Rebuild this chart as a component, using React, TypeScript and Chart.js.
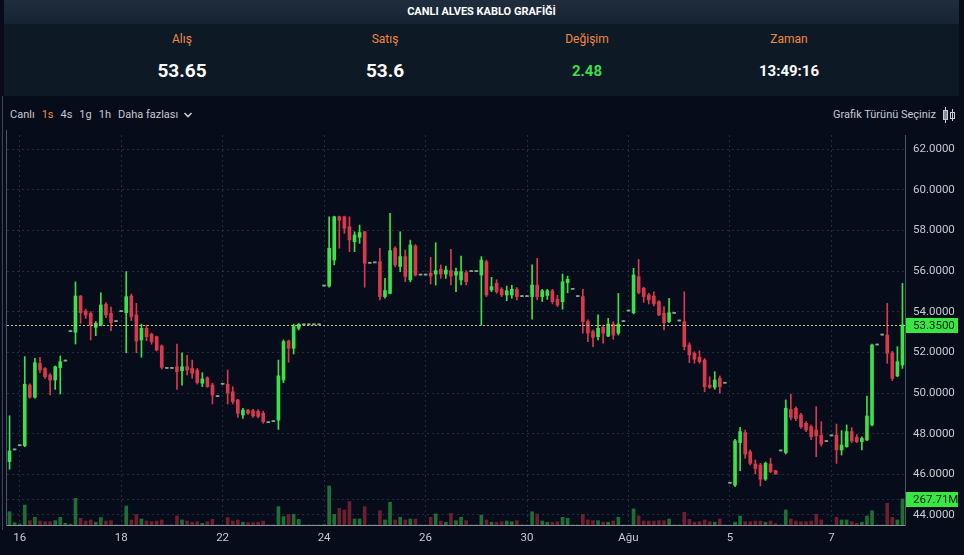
import React, { useEffect, useRef } from 'react';
import { Chart, registerables } from 'chart.js';

Chart.register(...registerables);

// ---------- DATA ----------
const opens = [
  46.62, 47.20, 47.41, 47.41, 50.39, 49.79, 51.46, 51.20, 50.88, 50.64,
  51.25, 51.57, 53.02, 52.99, 54.77, 54.03, 53.92, 53.23, 53.34, 54.37,
  53.92, 53.51, 54.00, 53.95, 54.77, 53.84, 52.61, 53.18, 52.89, 52.77,
  52.31, 51.21, 51.21, 51.29, 51.10, 51.29, 51.21, 51.13, 50.48, 50.75,
  50.39, 49.82, 50.43, 50.43, 50.06, 49.66, 48.92, 49.16, 49.13, 49.10,
  49.00, 48.54, 48.59, 48.67, 50.64, 52.56, 52.20, 53.18, 53.35, 53.35,
  53.35, 53.35, 55.26, 55.26, 56.54, 58.67, 58.67, 58.18, 57.44, 57.66,
  57.93, 56.38, 56.40, 56.46, 54.74, 54.90, 57.12, 56.22, 56.71, 55.56,
  57.23, 55.80, 55.80, 55.89, 55.85, 56.08, 55.85, 56.02, 55.80, 55.56,
  55.92, 55.97, 55.97, 55.80, 56.46, 55.07, 55.40, 55.10, 54.82, 54.82,
  55.10, 54.74, 54.74, 54.74, 55.31, 54.74, 54.80, 55.03, 54.61, 54.49,
  55.43, 55.10, 54.74, 54.74, 53.51, 53.02, 52.77, 53.23, 52.80, 53.39,
  52.94, 53.51, 54.03, 53.95, 55.72, 55.15, 54.82, 54.77, 54.49, 53.92,
  53.51, 53.92, 53.54, 53.51, 52.36, 51.95, 51.76, 51.62, 50.39, 50.28,
  50.72, 50.48, 45.56, 45.47, 47.56, 48.05, 47.11, 46.51, 46.46, 45.76,
  46.51, 46.18, 47.15, 47.07, 49.19, 49.25, 48.92, 48.51, 48.34, 48.18,
  47.93, 47.61, 47.89, 47.93, 47.20, 47.36, 48.10, 47.82, 47.61, 47.69,
  48.43, 52.36, 52.85, 52.85, 51.98, 50.84, 51.38,
];
const highs = [
  48.88, 47.20, 47.41, 51.79, 50.45, 51.70, 51.76, 51.25, 50.95, 51.33,
  51.82, 51.57, 53.02, 55.47, 54.80, 54.12, 54.00, 53.51, 54.93, 54.45,
  54.22, 53.51, 54.00, 55.97, 54.87, 54.41, 53.39, 53.34, 52.95, 52.80,
  52.36, 51.21, 51.21, 52.41, 51.98, 51.85, 51.62, 51.21, 51.00, 50.80,
  50.48, 49.82, 50.43, 51.13, 50.31, 49.69, 49.25, 49.20, 49.20, 49.18,
  49.11, 48.54, 48.59, 51.62, 52.61, 52.61, 53.39, 53.42, 53.35, 53.35,
  53.35, 53.35, 55.26, 58.67, 58.70, 58.70, 58.70, 58.67, 57.93, 58.26,
  57.95, 56.38, 56.40, 57.12, 55.64, 58.84, 57.20, 57.93, 57.03, 57.52,
  57.30, 55.80, 55.80, 56.67, 57.39, 56.30, 56.24, 57.07, 56.14, 56.74,
  56.02, 55.97, 55.97, 56.71, 56.54, 55.69, 55.57, 55.18, 55.26, 55.30,
  55.18, 54.74, 54.74, 56.30, 56.62, 55.10, 55.10, 55.10, 54.80, 55.85,
  55.75, 55.10, 54.74, 55.10, 53.60, 53.10, 53.84, 53.34, 53.67, 53.51,
  54.90, 53.51, 54.03, 56.13, 56.57, 55.20, 54.90, 54.98, 54.55, 54.25,
  54.66, 53.92, 53.54, 54.98, 52.47, 52.03, 52.08, 51.70, 50.80, 51.05,
  50.84, 50.48, 45.56, 47.72, 48.31, 48.18, 47.20, 46.71, 46.54, 46.60,
  46.79, 46.20, 47.15, 49.66, 49.95, 49.32, 49.00, 48.60, 48.42, 49.33,
  48.59, 47.61, 47.89, 48.47, 48.15, 48.43, 48.30, 47.95, 47.85, 49.85,
  52.41, 52.36, 52.85, 54.41, 52.05, 52.28, 55.39,
];
const lows = [
  46.25, 47.20, 47.41, 47.36, 49.75, 49.74, 51.00, 50.72, 49.90, 50.18,
  49.95, 51.57, 53.02, 52.41, 53.43, 53.67, 52.61, 52.82, 53.30, 53.70,
  53.06, 53.51, 54.00, 51.98, 53.56, 51.98, 51.76, 52.57, 52.40, 52.07,
  51.18, 51.21, 51.21, 50.18, 50.39, 50.89, 50.72, 50.44, 50.31, 50.28,
  49.46, 49.82, 50.43, 49.46, 49.46, 48.80, 48.75, 48.95, 48.80, 48.78,
  48.51, 48.54, 48.59, 48.21, 50.51, 51.51, 51.92, 53.10, 53.35, 53.35,
  53.35, 53.35, 55.26, 55.20, 56.30, 57.12, 57.85, 56.95, 56.95, 57.36,
  55.20, 56.38, 56.40, 54.58, 54.66, 54.87, 56.20, 55.97, 55.47, 55.47,
  55.75, 55.80, 55.80, 55.36, 55.31, 55.64, 55.64, 55.31, 54.98, 55.31,
  55.31, 55.97, 55.97, 53.34, 54.74, 54.98, 54.90, 54.74, 54.54, 54.66,
  54.58, 54.74, 54.74, 53.63, 54.58, 54.50, 54.60, 54.38, 54.25, 54.12,
  54.93, 55.10, 54.74, 52.94, 52.53, 52.28, 52.61, 52.45, 52.77, 52.64,
  52.85, 53.51, 54.03, 53.89, 54.87, 54.46, 54.38, 54.28, 53.80, 53.10,
  53.46, 53.92, 53.54, 52.12, 51.49, 51.46, 51.46, 50.06, 50.23, 50.18,
  49.99, 50.48, 45.56, 45.39, 46.18, 46.79, 46.46, 46.02, 45.43, 45.70,
  46.08, 46.00, 47.15, 47.00, 48.67, 48.64, 48.26, 48.10, 47.70, 46.87,
  47.39, 47.61, 47.89, 46.54, 46.95, 47.33, 47.56, 47.56, 47.20, 47.65,
  48.38, 52.36, 52.85, 51.46, 50.61, 50.80, 51.21,
];
const closes = [
  47.15, 47.20, 47.41, 50.43, 49.79, 51.49, 51.13, 50.80, 50.64, 51.29,
  51.54, 51.57, 53.02, 54.77, 53.95, 53.83, 53.34, 53.43, 54.33, 53.84,
  53.46, 53.51, 54.00, 54.74, 53.75, 52.56, 53.18, 52.77, 52.53, 52.11,
  51.26, 51.21, 51.21, 51.05, 51.29, 51.13, 50.97, 50.51, 50.69, 50.31,
  49.90, 49.82, 50.43, 49.99, 49.57, 49.00, 49.16, 49.00, 48.87, 48.85,
  48.59, 48.54, 48.59, 50.84, 52.53, 52.20, 53.27, 53.38, 53.35, 53.35,
  53.35, 53.35, 55.26, 57.12, 58.67, 58.50, 58.10, 57.53, 57.77, 57.89,
  56.38, 56.38, 56.40, 54.74, 55.04, 57.00, 56.30, 56.71, 55.73, 57.28,
  55.80, 55.80, 55.80, 55.75, 56.02, 55.85, 56.05, 55.75, 55.97, 55.97,
  55.47, 55.97, 55.97, 56.54, 54.82, 55.23, 54.98, 54.82, 55.03, 55.10,
  54.74, 54.74, 54.74, 55.31, 54.74, 55.03, 55.03, 54.49, 54.33, 55.47,
  55.59, 55.10, 54.74, 53.51, 52.94, 52.74, 53.18, 52.94, 53.39, 52.85,
  53.39, 53.51, 54.03, 55.80, 54.94, 54.74, 54.58, 54.38, 53.84, 53.46,
  53.95, 53.92, 53.54, 52.28, 51.87, 51.66, 51.54, 50.31, 50.28, 50.64,
  50.31, 50.48, 45.56, 47.65, 48.10, 47.00, 46.54, 46.29, 45.76, 46.54,
  46.13, 46.02, 47.15, 49.25, 48.80, 48.75, 48.34, 48.18, 47.85, 47.89,
  47.49, 47.61, 47.89, 47.20, 47.44, 48.10, 47.65, 47.61, 47.77, 48.87,
  52.36, 52.36, 52.85, 51.95, 50.72, 51.54, 53.35,
];
// volume in millions
const volumes = [
  137, 24, 10, 206, 45, 79, 41, 34, 34, 45,
  79, 17, 8, 275, 69, 41, 52, 28, 76, 41,
  45, 0, 0, 196, 52, 110, 62, 41, 34, 41,
  52, 0, 0, 93, 52, 41, 28, 34, 17, 34,
  58, 0, 0, 76, 41, 52, 28, 24, 24, 28,
  41, 0, 0, 189, 86, 110, 110, 58, 0, 0,
  0, 0, 5, 402, 110, 172, 155, 241, 62, 62,
  189, 0, 0, 148, 52, 234, 52, 79, 52, 62,
  62, 0, 0, 79, 113, 41, 28, 120, 45, 79,
  45, 0, 0, 103, 52, 28, 28, 34, 41, 34,
  45, 0, 0, 137, 113, 41, 28, 28, 34, 79,
  69, 0, 0, 110, 52, 45, 45, 28, 28, 41,
  79, 0, 0, 165, 93, 41, 41, 41, 45, 45,
  62, 0, 0, 131, 58, 28, 34, 52, 34, 28,
  62, 0, 0, 28, 93, 34, 34, 41, 41, 28,
  41, 15, 0, 155, 62, 41, 34, 34, 41, 110,
  52, 0, 0, 79, 52, 52, 34, 17, 28, 93,
  148, 0, 0, 224, 79, 52, 267.71,
];

const dateTickIndex = [2, 22, 42, 62, 82, 102, 122, 142, 162];
const dateTickLabels = ['16', '18', '22', '24', '26', '30', 'Ağu', '5', '7'];
const priceTicks = [44, 46, 48, 50, 52, 54, 56, 58, 60, 62];
const priceMin = 43.508;
const priceMax = 62.689;
const volumeMax = 4015;
const lastPrice = 53.35;
const lastVolume = 267.71;

const title = 'CANLI ALVES KABLO GRAFİĞİ';
const statLabels = ['Alış', 'Satış', 'Değişim', 'Zaman'];
const statValues = ['53.65', '53.6', '2.48', '13:49:16'];
const periods = ['1s', '4s', '1g', '1h'];

// ---------- STYLE ----------
const FONT = "Roboto, 'Noto Sans', 'DejaVu Sans', sans-serif";
const BG = '#060c1a';
const UP = '#3de04b';
const DOWN = '#d8394c';
const FLAT = '#7fa88a';
const UP_VOL = '#1f6e34';
const DOWN_VOL = '#6c1f2d';
const GRID = 'rgba(72, 86, 108, 0.45)';
const TICK = '#c6cad1';
const ORANGE = '#ef8a3f';
const LAST_LINE = '#bcd856';

const lastValuePlugin = {
  id: 'lastValue',
  afterDraw(chart: any) {
    const { ctx, chartArea, scales } = chart;
    const y = scales.y.getPixelForValue(lastPrice);
    const yv = scales.yv.getPixelForValue(lastVolume);
    ctx.save();
    ctx.lineWidth = 1;
    ctx.setLineDash([2, 3]);
    ctx.strokeStyle = GRID;
    ctx.beginPath();
    ctx.moveTo(chartArea.left, Math.round(yv) + 0.5);
    ctx.lineTo(chartArea.right, Math.round(yv) + 0.5);
    ctx.stroke();
    ctx.setLineDash([2, 2]);
    ctx.strokeStyle = LAST_LINE;
    ctx.beginPath();
    ctx.moveTo(chartArea.left, Math.round(y) + 0.5);
    ctx.lineTo(chartArea.right, Math.round(y) + 0.5);
    ctx.stroke();
    ctx.setLineDash([]);
    const drawBox = (py: number, text: string) => {
      ctx.fillStyle = '#37e843';
      ctx.fillRect(chartArea.right + 1, Math.round(py) - 7, 52, 15);
      ctx.fillStyle = '#0a1a0c';
      ctx.font = `11.5px ${FONT}`;
      ctx.textBaseline = 'middle';
      ctx.textAlign = 'left';
      ctx.fillText(text, chartArea.right + 8, Math.round(py) + 1);
    };
    drawBox(y, lastPrice.toFixed(4));
    drawBox(yv, lastVolume.toFixed(2) + 'M');
    ctx.restore();
  },
};

const noPad = (s: any) => {
  s.paddingTop = 0;
  s.paddingBottom = 0;
  s.paddingLeft = 0;
  s.paddingRight = 0;
};

function CandleChart() {
  const ref = useRef<HTMLCanvasElement | null>(null);
  useEffect(() => {
    if (!ref.current) return;
    const n = closes.length;
    const idx = closes.map((_, i) => i);
    const candleColor = idx.map((i) =>
      highs[i] === lows[i] ? FLAT : closes[i] >= opens[i] ? UP : DOWN
    );
    const volColor = idx.map((i) => (closes[i] >= opens[i] ? UP_VOL : DOWN_VOL));
    const chart = new Chart(ref.current, {
      type: 'bar',
      data: {
        datasets: [
          {
            label: 'body',
            data: idx.map((i) => ({ x: i, y: [opens[i], closes[i]] })) as any,
            backgroundColor: candleColor,
            barThickness: 3,
            minBarLength: 1,
            grouped: false,
            order: 1,
            yAxisID: 'y',
          } as any,
          {
            label: 'wick',
            data: idx.map((i) => ({ x: i, y: [lows[i], highs[i]] })) as any,
            backgroundColor: candleColor,
            barThickness: 1,
            minBarLength: 1,
            grouped: false,
            order: 2,
            yAxisID: 'y',
          } as any,
          {
            label: 'volume',
            data: idx.map((i) => ({ x: i, y: volumes[i] })) as any,
            backgroundColor: volColor,
            barThickness: 3,
            grouped: false,
            order: 3,
            yAxisID: 'yv',
          } as any,
        ],
      },
      options: {
        animation: false,
        responsive: false,
        devicePixelRatio: 1,
        events: [],
        layout: { padding: { left: 7, top: 5, right: 0, bottom: 0 } },
        plugins: { legend: { display: false }, tooltip: { enabled: false } },
        scales: {
          x: {
            type: 'linear',
            offset: false,
            min: -0.5,
            max: n - 0.5,
            afterBuildTicks: (s: any) => {
              s.ticks = dateTickIndex.map((v) => ({ value: v }));
            },
            afterFit: (s: any) => {
              s.height = 30;
              noPad(s);
            },
            ticks: {
              autoSkip: false,
              maxRotation: 0,
              padding: 6,
              color: TICK,
              font: { size: 11.5, family: FONT },
              callback: (v: any) => {
                const k = dateTickIndex.indexOf(Number(v));
                return k >= 0 ? dateTickLabels[k] : '';
              },
            },
            grid: { color: GRID, drawTicks: false, offset: false },
            border: { display: true, color: '#8d939d', dash: [2, 3] },
          },
          y: {
            position: 'right',
            min: priceMin,
            max: priceMax,
            afterBuildTicks: (s: any) => {
              s.ticks = priceTicks.map((v) => ({ value: v }));
            },
            afterFit: (s: any) => {
              s.width = 59;
              noPad(s);
            },
            ticks: {
              padding: 8,
              color: TICK,
              font: { size: 11.5, family: FONT },
              callback: (v: any) => Number(v).toFixed(4),
            },
            grid: { color: GRID, drawTicks: false },
            border: { display: true, color: '#4d5563', dash: [2, 3] },
          },
          yv: {
            display: false,
            min: 0,
            max: volumeMax,
          },
        },
      } as any,
      plugins: [lastValuePlugin],
    });
    return () => chart.destroy();
  }, []);
  return (
    <canvas
      ref={ref}
      width={964}
      height={425}
      style={{ position: 'absolute', left: 0, top: 130, width: 964, height: 425, display: 'block' }}
    />
  );
}

export default function App() {
  const centers = [182, 385, 587, 789];
  return (
    <div
      style={{
        position: 'fixed',
        left: 0,
        top: 0,
        width: 964,
        height: 555,
        background: BG,
        overflow: 'hidden',
        fontFamily: FONT,
      }}
    >
      <div style={{ position: 'absolute', left: 4, top: 0, width: 955, height: 96, background: '#0e1926' }} />
      <div
        style={{
          position: 'absolute',
          left: 4,
          top: 0,
          width: 955,
          height: 24,
          background: 'linear-gradient(#1f2d3d, #162332)',
          color: '#ffffff',
          fontWeight: 700,
          fontSize: 11,
          lineHeight: '24px',
          textAlign: 'center',
        }}
      >
        {title}
      </div>
      {statLabels.map((l, k) => (
        <div
          key={l}
          style={{
            position: 'absolute',
            left: centers[k] - 70,
            width: 140,
            top: 32,
            textAlign: 'center',
            color: ORANGE,
            fontSize: 12,
            lineHeight: '14px',
          }}
        >
          {l}
        </div>
      ))}
      {statValues.map((v, k) => (
        <div
          key={v}
          style={{
            position: 'absolute',
            left: centers[k] - 70,
            width: 140,
            top: k < 2 ? 60 : 62,
            textAlign: 'center',
            color: k === 2 ? '#3ddc4a' : '#ffffff',
            fontWeight: 700,
            fontSize: k < 2 ? 19 : 15,
            lineHeight: k < 2 ? '22px' : '18px',
          }}
        >
          {v}
        </div>
      ))}
      <div
        style={{
          position: 'absolute',
          left: 10,
          top: 108,
          height: 14,
          display: 'flex',
          alignItems: 'center',
          gap: 7,
          fontSize: 11,
          lineHeight: '14px',
          color: TICK,
          whiteSpace: 'nowrap',
        }}
      >
        <span>Canlı</span>
        {periods.map((p, k) => (
          <span key={p} style={{ color: k === 0 ? ORANGE : TICK }}>
            {p}
          </span>
        ))}
        <span>Daha fazlası</span>
        <svg width="10" height="8" viewBox="0 0 10 8" style={{ marginLeft: -2 }}>
          <path d="M1.5 2 L5 5.5 L8.5 2" stroke={TICK} strokeWidth="1.6" fill="none" />
        </svg>
      </div>
      <div
        style={{
          position: 'absolute',
          right: 28,
          top: 108,
          height: 14,
          fontSize: 11,
          lineHeight: '14px',
          color: TICK,
          whiteSpace: 'nowrap',
        }}
      >
        Grafik Türünü Seçiniz
      </div>
      <svg width="14" height="16" viewBox="0 0 14 16" style={{ position: 'absolute', left: 942, top: 107 }}>
        <line x1="3.5" y1="0" x2="3.5" y2="16" stroke={TICK} strokeWidth="1" />
        <rect x="1.5" y="3.5" width="4" height="9" fill="#8a8f98" stroke={TICK} strokeWidth="1" />
        <line x1="10.5" y1="2" x2="10.5" y2="14" stroke={TICK} strokeWidth="1" />
        <rect x="8.5" y="5.5" width="4" height="6" fill="none" stroke={TICK} strokeWidth="1" />
      </svg>
      <div style={{ position: 'absolute', left: 2, top: 96, width: 1, height: 434, background: '#3c4656' }} />
      <div style={{ position: 'absolute', left: 6, top: 130, width: 1, height: 396, background: '#4a5464' }} />
      <CandleChart />
    </div>
  );
}
